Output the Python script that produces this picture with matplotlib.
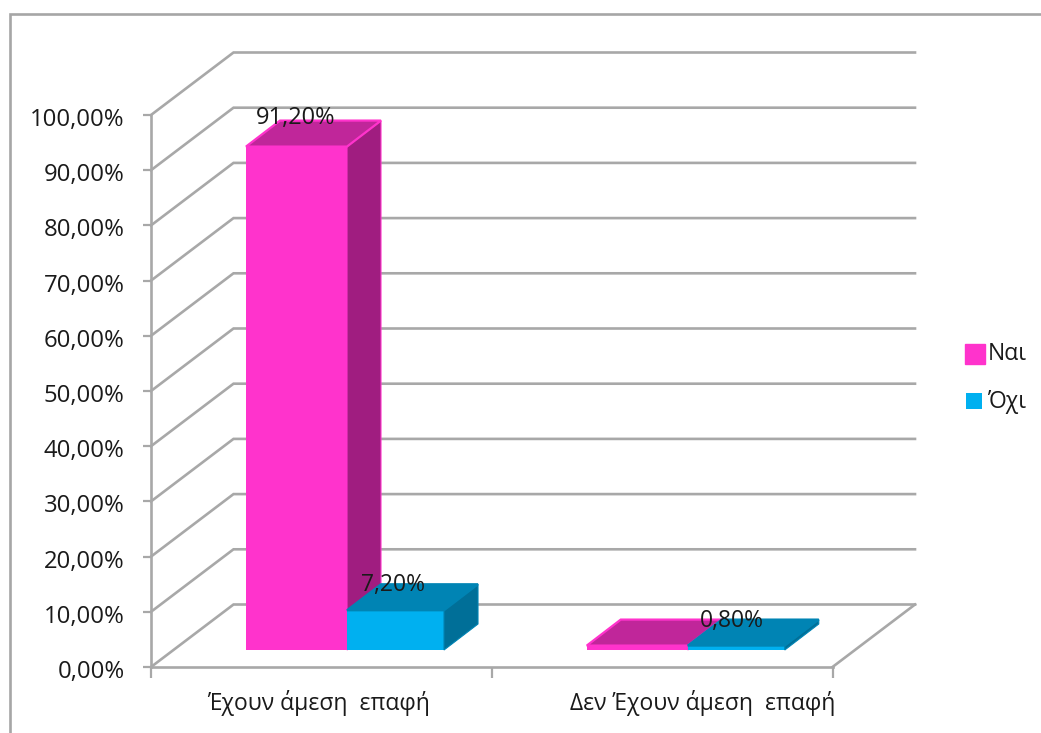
import matplotlib
matplotlib.use("Agg")
import matplotlib.pyplot as plt
from matplotlib.lines import Line2D
from matplotlib.patches import Polygon, FancyBboxPatch, Rectangle
from matplotlib.transforms import ScaledTranslation

# Survey shares per group
categories = ["Έχουν άμεση  επαφή", "Δεν Έχουν άμεση  επαφή"]
series_names = ["Ναι", "Όχι"]
yes_values = [91.2, 0.8]
no_values = [7.2, 0.8]
value_labels_yes = ["91,20%", None]
value_labels_no = ["7,20%", "0,80%"]
y_ticks = list(range(0, 101, 10))

W, H = 1041, 733
plt.rcParams["font.family"] = ["Open Sans", "DejaVu Sans"]

GRID = "#A8A8A8"
TEXT = "#1A1A1A"
FS = 16.5
PINK = ("#FF33CC", "#C0269A", "#A01D80")   # front, top, side
BLUE = ("#00B0F0", "#0084B4", "#006F98")

fig = plt.figure(figsize=(W / 100, H / 100), dpi=100, facecolor="white")

# Front plane of the pseudo-3D plot
X0, X1, Y0, Y1 = 151, 832.5, 667, 115
ax = fig.add_axes([X0 / W, 1 - Y0 / H, (X1 - X0) / W, (Y0 - Y1) / H])
ax.set_xlim(0, 2)
ax.set_ylim(0, 100)
ax.patch.set_alpha(0)
ux = (X1 - X0) / 2      # pixels per category
uy = (Y0 - Y1) / 100    # pixels per percent


def dx(px):
    return px / ux


def dy(px):
    return px / uy


for side in ("top", "right"):
    ax.spines[side].set_visible(False)
for side in ("left", "bottom"):
    ax.spines[side].set_color(GRID)
    ax.spines[side].set_linewidth(1.9)

ax.set_yticks(y_ticks)
ax.set_yticklabels([f"{v},00%" for v in y_ticks], fontsize=17.2, color=TEXT)
ax.set_xticks([0, 1, 2])
ax.set_xticklabels([])
ax.tick_params(axis="y", length=6, width=1.6, color=GRID, pad=13)
ax.tick_params(axis="x", length=8, width=1.6, color=GRID)

# Nudge the value-axis labels slightly below their ticks
nudge = ScaledTranslation(0, -2 / 100, fig.dpi_scale_trans)
for label in ax.get_yticklabels():
    label.set_transform(label.get_transform() + nudge)

# Wall and floor grid lines
wall_dx, wall_dy = dx(82.5), dy(62.5)
for v in y_ticks:
    ax.plot([0, wall_dx, 2 + wall_dx], [v, v + wall_dy, v + wall_dy],
            color=GRID, lw=1.9, clip_on=False, zorder=1, solid_joinstyle="miter")
ax.plot([2, 2 + wall_dx], [0, wall_dy], color=GRID, lw=1.9, clip_on=False, zorder=1)

# Bars: a front face from the library plus top and side faces in depth
base = dy(17)
bar_left = dx(95)
yes_w = dx(101)
no_w = dx(97)
depth_x, depth_y = dx(34), dy(26)


def draw_bars(values, offset, width, colors, rim):
    for i, v in enumerate(values):
        x = i + bar_left + offset
        top = base + v
        ax.bar(x, v, width=width, bottom=base, align="edge", color=colors[0],
               linewidth=0, zorder=3, clip_on=False)
        ax.add_patch(Polygon(
            [(x + width, top), (x + width + depth_x, top + depth_y),
             (x + width + depth_x, base + depth_y), (x + width, base)],
            closed=True, facecolor=colors[2], edgecolor=rim,
            linewidth=0.8, zorder=3, clip_on=False))
        ax.add_patch(Polygon(
            [(x, top), (x + depth_x, top + depth_y),
             (x + width + depth_x, top + depth_y), (x + width, top)],
            closed=True, facecolor=colors[1], edgecolor=rim,
            linewidth=1.6, zorder=3, clip_on=False))


draw_bars(yes_values, 0, yes_w, PINK, PINK[0])
draw_bars(no_values, yes_w, no_w, BLUE, BLUE[1])

# Value labels above the bars
ax.text(bar_left + yes_w / 2 - dx(1), yes_values[0] + base + dy(29),
        value_labels_yes[0], ha="center", va="center", fontsize=17, color=TEXT,
        zorder=5, clip_on=False)
ax.text(bar_left + yes_w + no_w / 2 - dx(3), no_values[0] + base + dy(25),
        value_labels_no[0], ha="center", va="center", fontsize=FS, color=TEXT,
        zorder=5, clip_on=False)
ax.text(1 + bar_left + yes_w + no_w / 2 - dx(4), no_values[1] + base + dy(24.5),
        value_labels_no[1], ha="center", va="center", fontsize=FS, color=TEXT,
        zorder=5, clip_on=False)

# Category labels
for name, cx in zip(categories, (319, 703)):
    fig.text(cx / W, 1 - 703 / H, name, ha="center", va="center", fontsize=FS, color=TEXT)

# Legend
fig.add_artist(FancyBboxPatch((965 / W, 1 - 364 / H), 20 / W, 20 / H,
                              boxstyle="square,pad=0", transform=fig.transFigure,
                              facecolor=PINK[0], edgecolor=PINK[0], linewidth=1))
fig.add_artist(Rectangle((966 / W, 1 - 409 / H), 16 / W, 16 / H,
                         transform=fig.transFigure, facecolor=BLUE[0], edgecolor="none"))
fig.text(988 / W, 1 - 354 / H, series_names[0], ha="left", va="center", fontsize=FS, color=TEXT)
fig.text(988 / W, 1 - 402 / H, series_names[1], ha="left", va="center", fontsize=FS, color=TEXT)

# Chart frame, cut off by the right and bottom of the canvas
fig.add_artist(Line2D([10 / W, 10 / W, 1], [0, 1 - 14 / H, 1 - 14 / H],
                      transform=fig.transFigure, color="#A6A6A6", lw=1.9,
                      solid_joinstyle="miter"))

fig.savefig("out.png", dpi=100)
